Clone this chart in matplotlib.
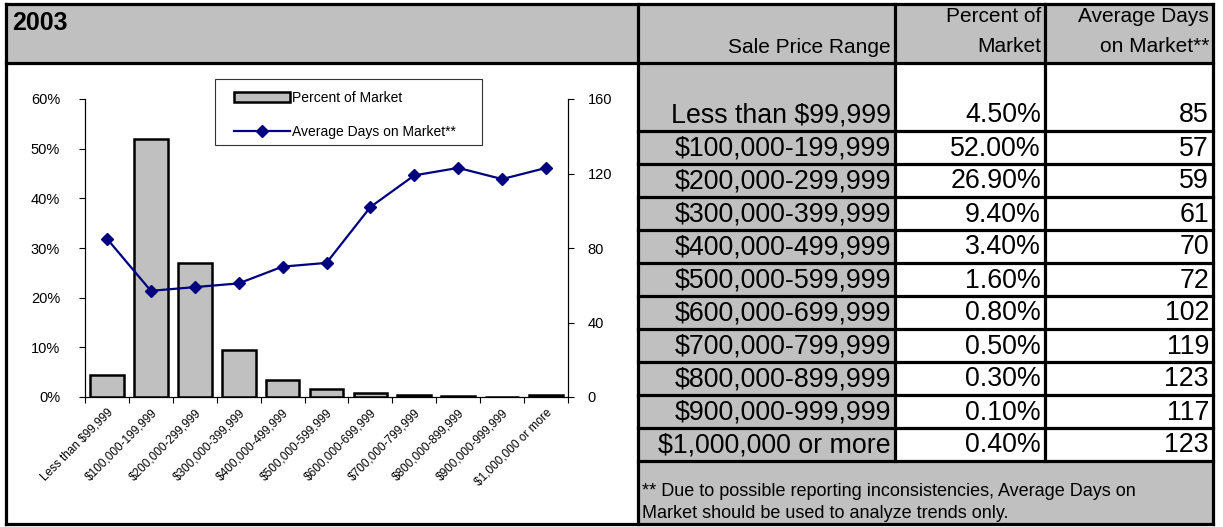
import numpy as np
import matplotlib
matplotlib.use('Agg')
import matplotlib.pyplot as plt
from matplotlib.patches import Rectangle
from matplotlib.lines import Line2D

plt.rcParams['font.family'] = ['Liberation Sans', 'DejaVu Sans']

# data
year = '2003'
ranges = ['Less than $99,999', '$100,000-199,999', '$200,000-299,999',
          '$300,000-399,999', '$400,000-499,999', '$500,000-599,999',
          '$600,000-699,999', '$700,000-799,999', '$800,000-899,999',
          '$900,000-999,999', '$1,000,000 or more']
pct_market = [4.5, 52.0, 26.9, 9.4, 3.4, 1.6, 0.8, 0.5, 0.3, 0.1, 0.4]
avg_days = [85, 57, 59, 61, 70, 72, 102, 119, 123, 117, 123]
footnote = ['** Due to possible reporting inconsistencies, Average Days on',
            'Market should be used to analyze trends only.']

W, H = 1223, 527
fig = plt.figure(figsize=(W / 100, H / 100), dpi=100)

# background layer in pixel coords
bg = fig.add_axes([0, 0, 1, 1])
bg.set_xlim(0, W)
bg.set_ylim(H, 0)
bg.axis('off')

gray = '#c0c0c0'
x0, xl, xc1, xc2, xr = 6, 638, 895, 1045, 1213
y_top, y_head, y_first, row_h = 4, 63, 131, 33
n_rows = len(ranges)
y_foot = y_first + row_h * (n_rows - 1)
y_bot = 524

bg.add_patch(Rectangle((x0, y_top), xr - x0, y_head - y_top, fc=gray, ec='none'))
bg.add_patch(Rectangle((xl, y_head), xc1 - xl, y_foot - y_head, fc=gray, ec='none'))
bg.add_patch(Rectangle((xl, y_foot), xr - xl, y_bot - y_foot, fc=gray, ec='none'))

lw = 2.3
def hline(y, a, b):
    bg.add_line(Line2D([a, b], [y, y], color='black', lw=lw, solid_capstyle='projecting'))
def vline(x, a, b):
    bg.add_line(Line2D([x, x], [a, b], color='black', lw=lw, solid_capstyle='projecting'))

hline(y_top, x0, xr)
hline(y_head, x0, xr)
hline(y_bot, x0, xr)
vline(x0, y_top, y_bot)
vline(xl, y_top, y_bot)
vline(xr, y_top, y_bot)
vline(xc1, y_top, y_foot)
vline(xc2, y_top, y_foot)
for k in range(n_rows):
    hline(y_first + row_h * k, xl, xr)

bg.text(12, 11, year, fontsize=18, fontweight='bold', ha='left', va='top')
bg.text(xc1 - 4, 57, 'Sale Price Range', fontsize=15, ha='right', va='bottom')
bg.text(xc2 - 4, 16, 'Percent of', fontsize=15, ha='right', va='center')
bg.text(xc2 - 4, 46, 'Market', fontsize=15, ha='right', va='center')
bg.text(xr - 4, 16, 'Average Days', fontsize=15, ha='right', va='center')
bg.text(xr - 4, 46, 'on Market**', fontsize=15, ha='right', va='center')

for i, (r, p, d) in enumerate(zip(ranges, pct_market, avg_days)):
    yc = y_first + row_h * i - row_h / 2 + 1
    bg.text(xc1 - 4, yc, r, fontsize=19.3, ha='right', va='center')
    bg.text(xc2 - 4, yc, '%.2f%%' % p, fontsize=19.3, ha='right', va='center')
    bg.text(xr - 4, yc, str(d), fontsize=19.3, ha='right', va='center')

bg.text(642, 491, footnote[0], fontsize=13, ha='left', va='center')
bg.text(642, 514, footnote[1], fontsize=13, ha='left', va='center')

# legend box frame
bg.add_patch(Rectangle((215, 79), 267, 66, fc='white', ec='#333333', lw=0.8))

# chart
ax_l, ax_r, ax_t, ax_b = 85, 568, 99, 397
ax1 = fig.add_axes([ax_l / W, 1 - ax_b / H, (ax_r - ax_l) / W, (ax_b - ax_t) / H])
ax1.patch.set_alpha(0)
x = np.arange(n_rows)
bars = ax1.bar(x, pct_market, width=0.77, color=gray, edgecolor='black', linewidth=1.8,
               label='Percent of Market', zorder=2)
ax1.set_xlim(-0.5, n_rows - 0.5)
ax1.set_ylim(0, 60)
ax1.set_yticks(range(0, 61, 10))
ax1.set_yticklabels(['%d%%' % v for v in range(0, 61, 10)])
ax1.spines['top'].set_visible(False)
ax1.tick_params(axis='y', direction='out', length=4, width=0.8, labelsize=10.5, pad=14)
ax1.set_xticks(x)
ax1.set_xticklabels(ranges, rotation=45, ha='right', va='top', rotation_mode='anchor',
                    fontsize=8.5)
ax1.set_xticks(np.arange(-0.5, n_rows, 1), minor=True)
ax1.tick_params(axis='x', which='major', length=0, pad=7)
ax1.tick_params(axis='x', which='minor', length=4, width=0.8)
for s in ['left', 'right', 'bottom']:
    ax1.spines[s].set_linewidth(0.8)

ax2 = ax1.twinx()
line, = ax2.plot(x, avg_days, color='#000080', lw=1.6, marker='D', markersize=6,
                 label='Average Days on Market**', zorder=3)
ax2.set_ylim(0, 160)
ax2.set_yticks(range(0, 161, 40))
ax2.spines['top'].set_visible(False)
ax2.spines['right'].set_linewidth(0.8)
ax2.tick_params(axis='y', direction='out', length=4, width=0.8, labelsize=10.5, pad=10)

fig.legend([bars, line], ['Percent of Market', 'Average Days on Market**'],
           loc='upper left', bbox_to_anchor=(234 / W, 1 - 91 / H),
           fontsize=10, frameon=False, borderaxespad=0, borderpad=0,
           handlelength=4.0, labelspacing=1.45, handletextpad=0.15)

fig.savefig('out.png', dpi=100)
